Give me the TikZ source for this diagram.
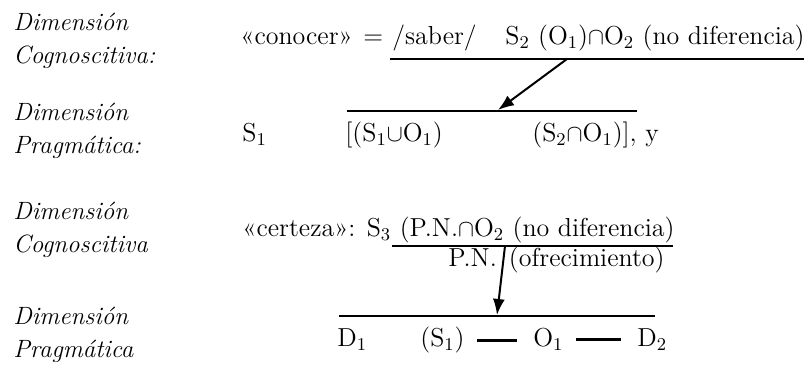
\documentclass[tikz,border=0pt]{standalone}
\usepackage{amsmath,amssymb}
\usepackage{tikz}
\usetikzlibrary{arrows.meta,positioning,calc}

\begin{document}
\begin{tikzpicture}[
    x=0.5pt, y=-0.5pt,
    dim/.style={anchor=west, align=left, inner sep=0pt, font=\fontsize{12.5}{16.5}\selectfont\itshape},
    txt/.style={anchor=base west, inner sep=0pt, font=\fontsize{13}{15}\selectfont},
    bar/.style={line width=1.3pt},
    thinbar/.style={line width=0.7pt},
    arr/.style={-{Latex[length=8pt,width=6pt]}, line width=1pt},
    link/.style={line width=1.2pt, shorten <=6pt, shorten >=8pt}
]
    \useasboundingbox (0,0) rectangle (810,368);

    % Dimension labels
    \node[dim] (cog1) at (13,41) {Dimensión\\Cognoscitiva:};
    \node[dim] (prag1) at (13,131) {Dimensión\\Pragmática:};
    \node[dim] (cog2) at (13,230) {Dimensión\\Cognoscitiva};
    \node[dim] (prag2) at (13,335) {Dimensión\\Pragmática};

    % conocer
    \node[txt] (conocer) at (240,45) {«conocer»};
    \node[txt] (equals) at (363,45) {=};
    \node[txt] (saber) at (392,45) {/saber/};
    \node[txt, anchor=base east] (nodif1) at (805,45) {S$_2$ (O$_1$)$\cap$O$_2$ (no diferencia)};
    \coordinate (bar1a) at (390,59);
    \coordinate (bar1b) at (804,59);
    \draw[bar] (bar1a) -- (bar1b);

    % first pragmatic row
    \coordinate (bar2a) at (347,111);
    \coordinate (bar2b) at (637,111);
    \draw[bar] (bar2a) -- (bar2b);
    \node[txt] (sone) at (242,142) {S$_1$};
    \node[txt] (union) at (345,142) {[(S$_1$$\cup$O$_1$)};
    \node[txt] (inter) at (532,142) {(S$_2$$\cap$O$_1$)], y};

    % certeza
    \node[txt] (certeza) at (242,237) {«certeza»: S$_3$};
    \node[txt, anchor=base east] (nodif2) at (675,237) {(P.N.$\cap$O$_2$ (no diferencia)};
    \coordinate (bar3a) at (392,246);
    \coordinate (bar3b) at (673,246);
    \draw[thinbar] (bar3a) -- (bar3b);
    \node[txt] (pn) at (448,267) {P.N.};
    \node[txt, anchor=base east] (ofrec) at (665,267) {(ofrecimiento)};

    % second pragmatic row
    \coordinate (bar4a) at (339,316);
    \coordinate (bar4b) at (655,316);
    \draw[thinbar] (bar4a) -- (bar4b);
    \node[txt] (done) at (337,347) {D$_1$};
    \node[txt] (stwo) at (420,347) {(S$_1$)};
    \node[txt] (oone) at (533,347) {O$_1$};
    \node[txt] (dtwo) at (637,347) {D$_2$};
    \draw[link] (stwo.east) -- (stwo.east -| oone.west);
    \draw[link] (oone.east) -- (oone.east -| dtwo.west);

    % Arrows
    \coordinate (from1) at (567,59);
    \coordinate (to1) at (498,110);
    \draw[arr] (from1) -- (to1);
    \coordinate (from2) at (505,246);
    \coordinate (to2) at (497,315);
    \draw[arr] (from2) -- (to2);
\end{tikzpicture}
\end{document}
